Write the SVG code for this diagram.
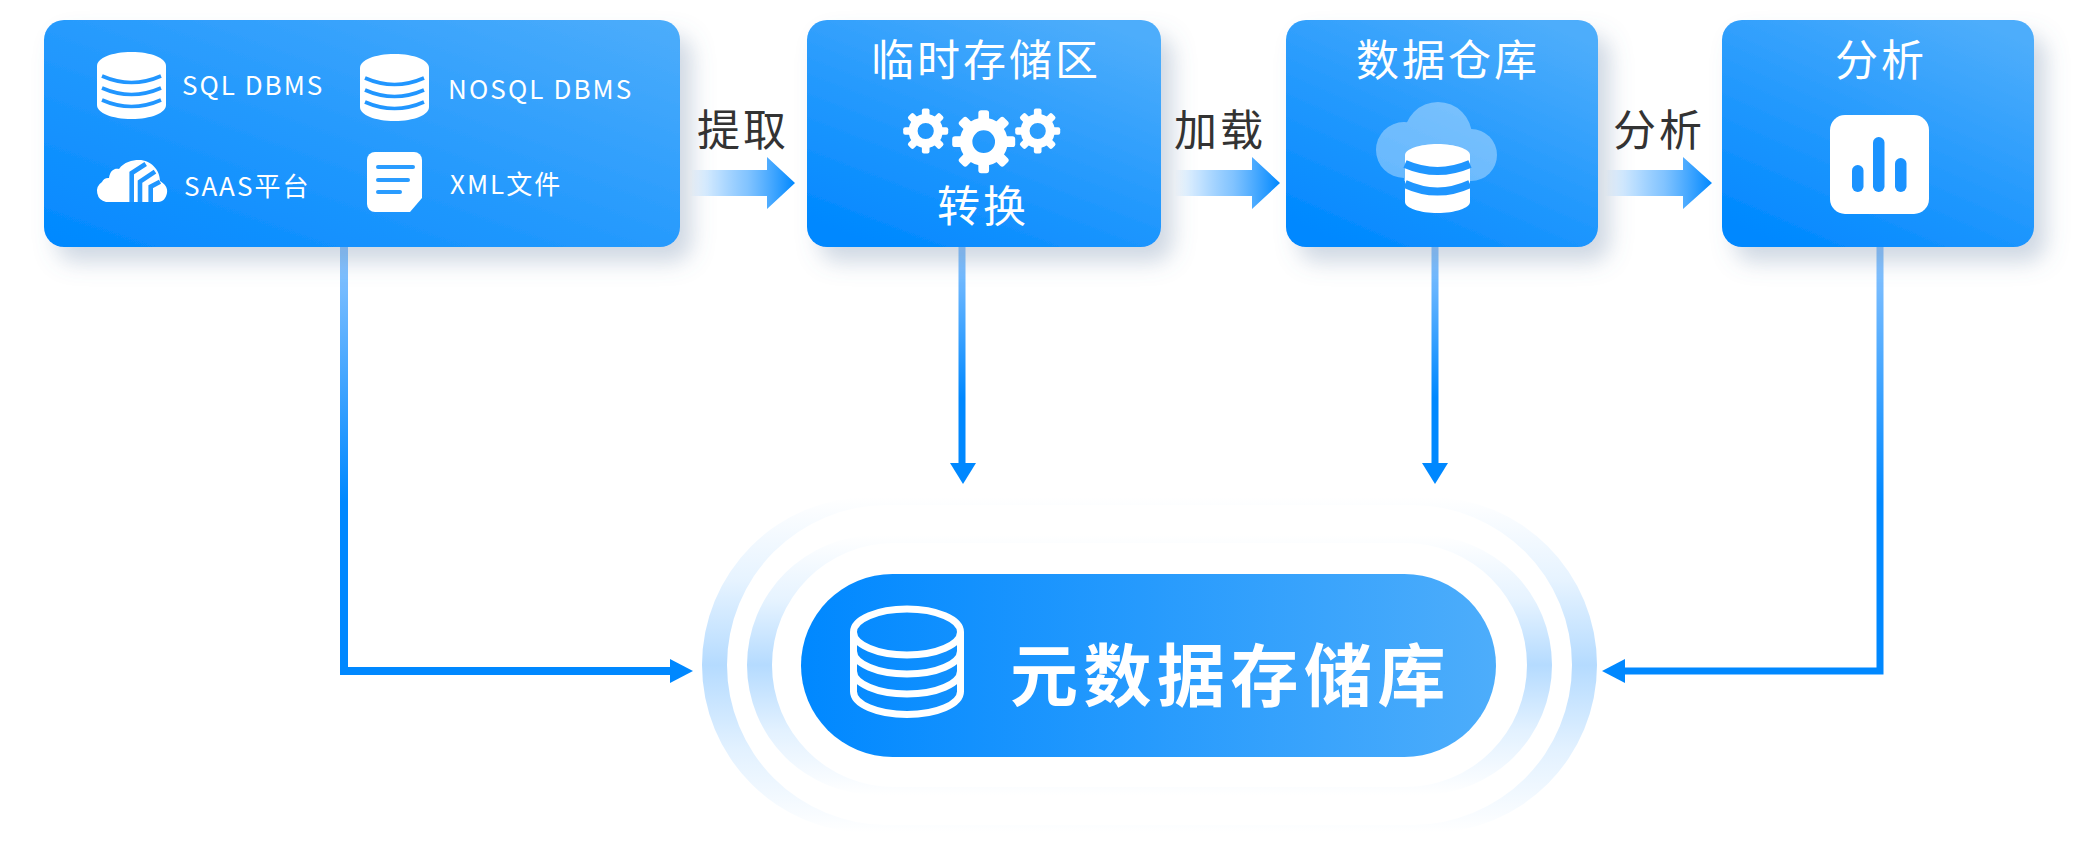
<svg xmlns="http://www.w3.org/2000/svg" xmlns:xlink="http://www.w3.org/1999/xlink" width="2093" height="866" viewBox="0 0 2093 866">
<style>
text{font-family:"Noto Sans CJK SC","Noto Sans",sans-serif}
.t{fill:#fff;font-size:43px;letter-spacing:3px}
.s{fill:#fff;font-size:26px;letter-spacing:2px}
.d{fill:#333;font-size:43px;letter-spacing:3px}
.box{filter:url(#sh)}
.bd{fill:none;stroke:#2196ff;stroke-width:3.6}
.ln{fill:none;stroke:#2a9cff;stroke-width:4;stroke-linecap:round}
.st{fill:none;stroke:#1f96ff;stroke-width:4.6}
.vl{fill:none;stroke-width:7}
.hd{fill:#0088ff}
</style>
<defs>
<filter id="sh" x="-15%" y="-15%" width="135%" height="145%"><feDropShadow dx="12" dy="15" stdDeviation="11" flood-color="#5f7fa3" flood-opacity=".3"/></filter>
<linearGradient id="g1" x1="0" y1="1" x2="1" y2="0"><stop offset="0" stop-color="#0088ff"/><stop offset="1" stop-color="#4dadfb"/></linearGradient>
<linearGradient id="g2" x1=".2" y1="1" x2=".8" y2="0"><stop offset="0" stop-color="#0088ff"/><stop offset="1" stop-color="#4dadfb"/></linearGradient>
<linearGradient id="gp" x1="0" y1="0" x2="1" y2="0"><stop offset="0" stop-color="#0088ff"/><stop offset="1" stop-color="#4dadfb"/></linearGradient>
<linearGradient id="ga" x1="0" y1="0" x2="1" y2="0"><stop offset="0" stop-color="#4aa8ff" stop-opacity="0"/><stop offset=".55" stop-color="#6cb9ff" stop-opacity=".85"/><stop offset="1" stop-color="#0088ff"/></linearGradient>
<linearGradient id="gr" x1="0" y1="0" x2="0" y2="1"><stop offset="0" stop-color="#fff"/><stop offset=".25" stop-color="#e6f3ff"/><stop offset=".5" stop-color="#b5dbff"/><stop offset=".75" stop-color="#e2f1ff"/><stop offset="1" stop-color="#fff"/></linearGradient>
<linearGradient id="v1" gradientUnits="userSpaceOnUse" x1="0" y1="247" x2="0" y2="671"><stop offset="0" stop-color="#8cc5ff"/><stop offset=".6" stop-color="#0088ff"/></linearGradient>
<linearGradient id="v2" gradientUnits="userSpaceOnUse" x1="0" y1="247" x2="0" y2="463"><stop offset="0" stop-color="#8cc5ff"/><stop offset=".7" stop-color="#0088ff"/></linearGradient>
<g id="db">
<path d="M97,66C97,58 112,52 131.500,52S166,58 166,66V105C166,113 151,119 131.500,119S97,113 97,105Z" fill="#fff"/>
<path class="bd" d="M102,76Q131.500,89 161,76M102,88Q131.500,101 161,88M102,100Q131.500,113 161,100"/>
</g>
<g id="gear" fill="#fff">
<circle r="56" fill="none" stroke="#fff" stroke-width="40"/>
<rect id="tooth" x="-17" y="-100" width="34" height="40" rx="9"/>
<use xlink:href="#tooth" transform="rotate(45)"/><use xlink:href="#tooth" transform="rotate(90)"/><use xlink:href="#tooth" transform="rotate(135)"/><use xlink:href="#tooth" transform="rotate(180)"/><use xlink:href="#tooth" transform="rotate(225)"/><use xlink:href="#tooth" transform="rotate(270)"/><use xlink:href="#tooth" transform="rotate(315)"/>
</g>
</defs>

<g id="halo">
<path fill="url(#gr)" fill-rule="evenodd" d="M870,497H1429A168,168 0 0 1 1429,833H870A168,168 0 0 1 870,497ZM887,505A160,160 0 0 0 887,825H1412A160,160 0 0 0 1412,505Z"/>
<path fill="url(#gr)" fill-rule="evenodd" d="M877,535H1422A130,130 0 0 1 1422,795H877A130,130 0 0 1 877,535ZM894,543A122,122 0 0 0 894,787H1405A122,122 0 0 0 1405,543Z"/>
</g>

<g id="connectors">
<path class="vl" stroke="url(#v1)" style="stroke-width:8" d="M344,247V671H672"/>
<path class="hd" d="M670,659L693,671L670,683Z"/>
<path class="vl" stroke="url(#v2)" d="M962,245V466"/>
<path class="hd" d="M950,463H976L963,484Z"/>
<path class="vl" stroke="url(#v2)" d="M1435,247V466"/>
<path class="hd" d="M1422,463H1448L1435,484Z"/>
<path class="vl" stroke="url(#v1)" d="M1880,247V671H1622"/>
<path class="hd" d="M1625,659L1602,671L1625,683Z"/>
</g>

<g id="n1">
<rect class="box" x="44" y="20" width="636" height="227" rx="20" fill="url(#g1)"/>
<use xlink:href="#db"/>
<text class="s" x="182" y="95">SQL DBMS</text>
<use xlink:href="#db" x="263" y="2"/>
<text class="s" x="448" y="99" style="letter-spacing:2.100px">NOSQL DBMS</text>
<path fill="#fff" d="M106,202A11,11 0 0 1 102,182A7,7 0 0 1 109,178C110,170 115,168 119,169C124,162 132,160 139,160C151,160 160,170 160,181C165,184 168,188 167,193C166,198 163,202 158,202Z"/>
<path class="st" d="M131.700,202V173L145.700,164M140,202V181.700L155,171.700M150.700,202V186.700L160,181.700"/>
<text class="s" x="184" y="196">SAAS平台</text>
<path fill="#fff" d="M375,152H414A8,8 0 0 1 422,160V198L410,212H375A8,8 0 0 1 367,204V160A8,8 0 0 1 375,152Z"/>
<path class="ln" d="M378,167H413M378,180H408M378,192H400"/>
<text class="s" x="450" y="194">XML文件</text>
</g>

<g id="n2">
<rect class="box" x="807" y="20" width="354" height="227" rx="20" fill="url(#g2)"/>
<text class="t" x="871" y="76">临时存储区</text>
<use xlink:href="#gear" transform="translate(925.700,131) scale(.225)"/>
<use xlink:href="#gear" transform="translate(983.700,141.700) scale(.315)"/>
<use xlink:href="#gear" transform="translate(1037.700,131) scale(.225)"/>
<text class="t" x="937" y="222">转换</text>
</g>

<g id="n3">
<rect class="box" x="1286" y="20" width="312" height="227" rx="20" fill="url(#g2)"/>
<text class="t" x="1356" y="76">数据仓库</text>
<g fill="#fff" opacity=".35"><circle cx="1404" cy="150" r="28"/><circle cx="1438" cy="136" r="34"/><circle cx="1471" cy="155" r="26"/><rect x="1404" y="150" width="67" height="31"/></g>
<path fill="#fff" d="M1405,155C1405,149 1420,144 1437.500,144S1470,149 1470,155V202C1470,208 1455,213 1437.500,213S1405,208 1405,202Z"/>
<path fill="none" stroke="#1f96ff" stroke-width="8" d="M1405,164Q1437.500,178 1470,164M1405,184Q1437.500,199 1470,184"/>
</g>

<g id="n4">
<rect class="box" x="1722" y="20" width="312" height="227" rx="20" fill="url(#g2)"/>
<text class="t" x="1835" y="76">分析</text>
<rect x="1830" y="115" width="99" height="99" rx="15" fill="#fff"/>
<g fill="#1b93ff"><rect x="1852" y="165" width="11.500" height="27" rx="5.700"/><rect x="1873" y="137" width="11.500" height="55" rx="5.700"/><rect x="1895" y="158" width="11.500" height="34" rx="5.700"/></g>
</g>

<g id="flow-labels">
<path fill="url(#ga)" d="M690,170H767V157L795,183L767,209V196H690Z"/>
<text class="d" x="697" y="146">提取</text>
<path fill="url(#ga)" d="M1175,170H1252V157L1280,183L1252,209V196H1175Z"/>
<text class="d" x="1174" y="146">加载</text>
<path fill="url(#ga)" d="M1605,170H1683V157L1712,183L1683,209V196H1605Z"/>
<text class="d" x="1613" y="146">分析</text>
</g>

<g id="n5">
<rect x="801" y="574" width="695" height="183" rx="91.500" fill="url(#gp)"/>
<g fill="none" stroke="#fff" stroke-width="7">
<ellipse cx="907" cy="632" rx="53.500" ry="23"/>
<path d="M853.500,632V691.500A53.500,23 0 0 0 960.500,691.500V632M853.500,651A53.500,23 0 0 0 960.500,651M853.500,671A53.500,23 0 0 0 960.500,671"/>
</g>
<text x="1010" y="701" fill="#fff" font-size="68" font-weight="700" letter-spacing="5.500">元数据存储库</text>
</g>
</svg>
